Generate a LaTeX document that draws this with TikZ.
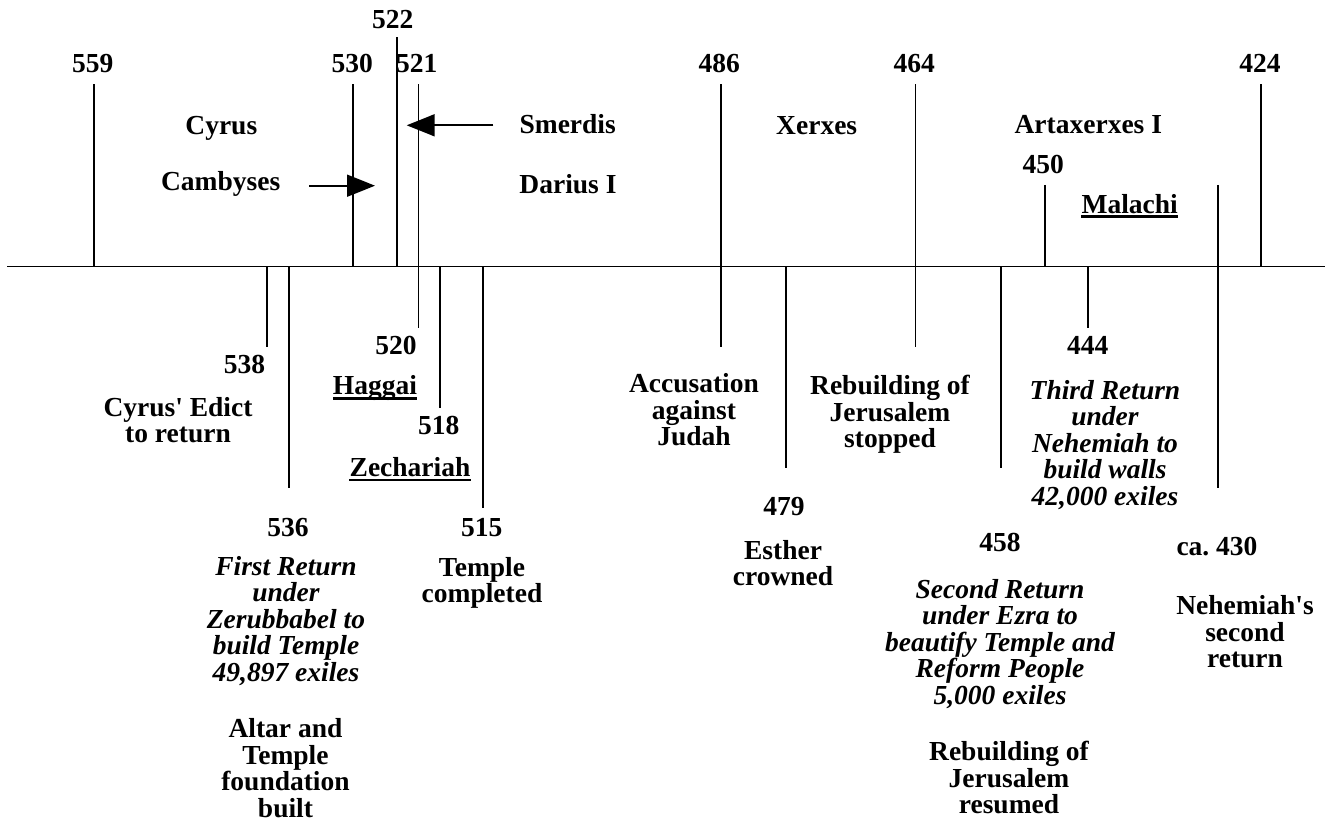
\documentclass[tikz,border=0pt]{standalone}
\usepackage{fontspec}
\setmainfont{Liberation Serif}
\usetikzlibrary{arrows.meta}
\begin{document}
\begin{tikzpicture}[x=1pt,y=-1pt,
  lab/.style={inner sep=0pt, align=center, font=\bfseries\fontsize{27.5}{26.5}\selectfont},
  itl/.style={inner sep=0pt, align=center, font=\bfseries\itshape\fontsize{27.5}{26.5}\selectfont},
  num/.style={lab, anchor=base},
  tick/.style={line width=1.8pt},
  ul/.style={line width=2.2pt},
  arr/.style={line width=1.8pt,-{Triangle[length=28pt,width=22pt]}}]
\useasboundingbox (0,0) rectangle (1325,821);
% axis
\coordinate (axL) at (7,266.5);
\coordinate (axR) at (1325,266.5);
\draw[tick] (axL) -- (axR);
% ticks
\foreach \n/\x/\ya/\yb in {559/94.3/84.3/266.5, 530/353.3/84.3/266.5, 522/396.7/37.3/266.5,
  521/418.5/84.3/327.7, 486/720.7/84.3/347, 464/915.5/84.3/347, 450/1045/185/266.5,
  424/1261/84.3/266.5, 430/1217.7/185/487.7, 538/267/266.5/347, 536/288.7/266.5/487.7,
  518/439.7/266.5/407.7, 515/482.7/266.5/508, 479/785.7/266.5/467.7, 458/1001/266.5/467.7,
  444/1087.7/266.5/327.7}{
  \coordinate (t\n-a) at (\x,\ya);
  \coordinate (t\n-b) at (\x,\yb);
  \draw[tick] (t\n-a) -- (t\n-b);
}
% top labels
\node[num] (n522) at (392.7,28.5) {522};
\node[num] (n559) at (92.7,72.8) {559};
\node[num] (n530) at (352.3,72.8) {530};
\node[num] (n521) at (416.7,72.8) {521};
\node[num] (n486) at (719.3,72.5) {486};
\node[num] (n464) at (914.3,72.5) {464};
\node[num] (n424) at (1260,72.5) {424};
\node[num] (cyrus) at (221.3,134.2) {Cyrus};
\node[num] (camb) at (220.7,190.2) {Cambyses};
\node[num] (smer) at (567.7,133.5) {Smerdis};
\node[num] (dar) at (568,193.5) {Darius I};
\node[num] (xer) at (816.7,134.2) {Xerxes};
\node[num] (arta) at (1088.3,133.5) {Artaxerxes I};
\node[num] (n450) at (1043.3,173.5) {450};
\node[num] (mal) at (1129.7,213.5) {Malachi};
% arrows
\coordinate (smS) at (493.3,125.3);
\coordinate (smT) at (406.7,125.3);
\draw[arr] (smS) -- (smT);
\coordinate (caS) at (309.3,185.7);
\coordinate (caT) at (375,185.7);
\draw[arr] (caS) -- (caT);
% bottom labels
\node[num] (n538) at (244.5,373.5) {538};
\node[num] (n520) at (396,354.5) {520};
\node[num] (hag) at (375,394.5) {Haggai};
\node[num] (n518) at (438.7,434.5) {518};
\node[num] (zech) at (410,476.2) {Zechariah};
\node[num] (n536) at (288,536.5) {536};
\node[num] (n515) at (481.7,536.5) {515};
\node[num] (n479) at (784,515.9) {479};
\node[num] (n444) at (1087.7,354.5) {444};
\node[num] (n458) at (1000,551.8) {458};
\node[num] (n430) at (1217,555.2) {ca.\ 430};
% underlines
\draw[ul] ([yshift=-4pt]hag.base west) -- ([yshift=-4pt]hag.base east);
\draw[ul] ([yshift=-4pt]zech.base west) -- ([yshift=-4pt]zech.base east);
\draw[ul] ([yshift=-3pt]mal.base west) -- ([yshift=-3pt]mal.base east);
% multi-line blocks
\node[lab] (edict) at (178,420) {Cyrus\textquotesingle\ Edict\\to return};
\node[itl] (first) at (286,621) {First Return\\under\\Zerubbabel to\\build Temple\\49,897 exiles};
\node[lab] (altar) at (285.5,768) {Altar and\\Temple\\foundation\\built};
\node[lab] (tcomp) at (482,583) {Temple\\completed};
\node[lab] (accu) at (694,410) {Accusation\\against\\Judah};
\node[lab] (esth) at (783,563) {Esther\\crowned};
\node[lab] (rstop) at (890,414.5) {Rebuilding of\\Jerusalem\\stopped};
\node[itl] (third) at (1105,445) {Third Return\\under\\Nehemiah to\\build walls\\42,000 exiles};
\node[itl] (second) at (1000,644) {Second Return\\under Ezra to\\beautify Temple and\\Reform People\\5,000 exiles};
\node[lab] (rres) at (1009,777.5) {Rebuilding of\\Jerusalem\\resumed};
\node[lab] (neh2) at (1245,632) {Nehemiah\textquotesingle s\\second\\return};
\end{tikzpicture}
\end{document}
